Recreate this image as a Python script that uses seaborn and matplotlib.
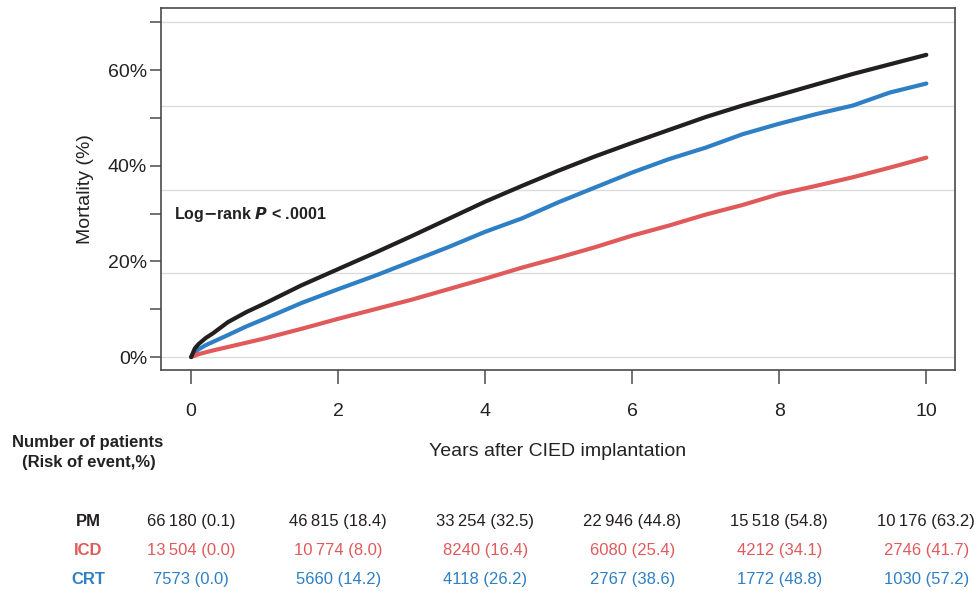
import matplotlib
matplotlib.use("Agg")
import matplotlib.pyplot as plt
import seaborn as sns
import pandas as pd
from matplotlib.ticker import FixedLocator

# ---------------- data ----------------
years = [0, 0.05, 0.1, 0.2, 0.3, 0.5, 0.75, 1, 1.5, 2, 2.5, 3, 3.5, 4, 4.5,
         5, 5.5, 6, 6.5, 7, 7.5, 8, 8.5, 9, 9.5, 10]
pm_mort = [0, 1.8, 2.7, 4.0, 5.0, 7.3, 9.4, 11.2, 15.0, 18.4, 21.8, 25.3,
           28.9, 32.5, 35.8, 39.0, 42.0, 44.8, 47.5, 50.2, 52.6, 54.8, 57.0,
           59.2, 61.2, 63.2]
crt_mort = [0, 1.0, 1.6, 2.5, 3.2, 4.6, 6.4, 8.0, 11.3, 14.2, 17.0, 20.0,
            23.0, 26.2, 29.0, 32.4, 35.5, 38.6, 41.4, 43.8, 46.6, 48.8, 50.8,
            52.6, 55.3, 57.2]
icd_mort = [0, 0.3, 0.6, 1.0, 1.4, 2.1, 3.0, 3.9, 5.9, 8.0, 10.0, 12.0,
            14.2, 16.4, 18.7, 20.8, 23.0, 25.4, 27.5, 29.8, 31.8, 34.1, 35.8,
            37.6, 39.6, 41.7]

groups = ["PM", "ICD", "CRT"]
tick_years = [0, 2, 4, 6, 8, 10]
pm_risk = ["66\u2009180 (0.1)", "46\u2009815 (18.4)", "33\u2009254 (32.5)",
           "22\u2009946 (44.8)", "15\u2009518 (54.8)", "10\u2009176 (63.2)"]
icd_risk = ["13\u2009504 (0.0)", "10\u2009774 (8.0)", "8240 (16.4)",
            "6080 (25.4)", "4212 (34.1)", "2746 (41.7)"]
crt_risk = ["7573 (0.0)", "5660 (14.2)", "4118 (26.2)",
            "2767 (38.6)", "1772 (48.8)", "1030 (57.2)"]

y_ticks = [0, 10, 20, 30, 40, 50, 60, 70]
y_ticklabels = ["0%", "", "20%", "", "40%", "", "60%", ""]
grid_levels = [0, 17.5, 35, 52.5, 70]

colors = {"PM": "#231f20", "ICD": "#e05a5c", "CRT": "#2f7fc4"}

df = pd.concat([
    pd.DataFrame({"year": years, "mort": pm_mort, "group": "PM"}),
    pd.DataFrame({"year": years, "mort": icd_mort, "group": "ICD"}),
    pd.DataFrame({"year": years, "mort": crt_mort, "group": "CRT"}),
])

# ---------------- plot ----------------
sns.set_theme(style="white")
plt.rcParams["font.family"] = ["Liberation Sans", "DejaVu Sans"]

fig = plt.figure(figsize=(9.74, 5.91), dpi=100)
ax = fig.add_axes([0.1653, 0.374, 0.8152, 0.6125])

for lv in grid_levels:
    ax.axhline(lv, color="#dcdcdc", lw=1.0, zorder=0)

sns.lineplot(data=df, x="year", y="mort", hue="group", hue_order=["CRT", "ICD", "PM"],
             palette=colors, linewidth=3.0, legend=False, ax=ax,
             solid_capstyle="round", zorder=3)

ax.set_xlim(-0.41, 10.39)
ax.set_ylim(-2.7, 73)
ax.set_xticks(tick_years)
ax.set_xticklabels([str(t) for t in tick_years])
ax.yaxis.set_major_locator(FixedLocator(y_ticks))
ax.set_yticklabels(y_ticklabels)

for s in ax.spines.values():
    s.set_color("#4a4a4a")
    s.set_linewidth(1.2)
    s.set_visible(True)

ax.tick_params(axis="x", direction="out", length=10, width=1.1, color="#4a4a4a",
               pad=14, labelsize=14, labelcolor="#222222", bottom=True)
ax.tick_params(axis="y", direction="out", length=8, width=1.1, color="#4a4a4a",
               pad=2, labelsize=14, labelcolor="#222222", left=True)

ax.set_xlabel("Years after CIED implantation", fontsize=14, color="#222222", labelpad=16)
ax.set_ylabel("Mortality (%)", fontsize=14, color="#222222", labelpad=10)
ax.grid(False)

ax.text(0.0168, 0.43, r"Log$\mathbf{-}$rank $\boldsymbol{P}$ < .0001", transform=ax.transAxes,
        fontsize=11.5, fontweight="bold", color="#222222", va="center", ha="left")

# ---------------- risk table ----------------
fig.text(12 / 974, 1 - 443 / 591, "Number of patients", fontsize=12, fontweight="bold",
         color="#222222", ha="left", va="center")
fig.text(22 / 974, 1 - 463 / 591, "(Risk of event,%)", fontsize=12, fontweight="bold",
         color="#222222", ha="left", va="center")

row_base = [526, 555, 584]
row_vals = [pm_risk, icd_risk, crt_risk]
for g, yy, vals in zip(groups, row_base, row_vals):
    fy = 1 - yy / 591
    fig.text(88 / 974, fy, g, fontsize=12, fontweight="bold", color=colors[g],
             ha="center", va="baseline")
    for t, v in zip(tick_years, vals):
        xd = ax.transData.transform((t, 0))[0]
        xf = fig.transFigure.inverted().transform((xd, 0))[0]
        fig.text(xf, fy, v, fontsize=12, color=colors[g], ha="center", va="baseline")

fig.savefig("out.png", dpi=100, facecolor="white")
